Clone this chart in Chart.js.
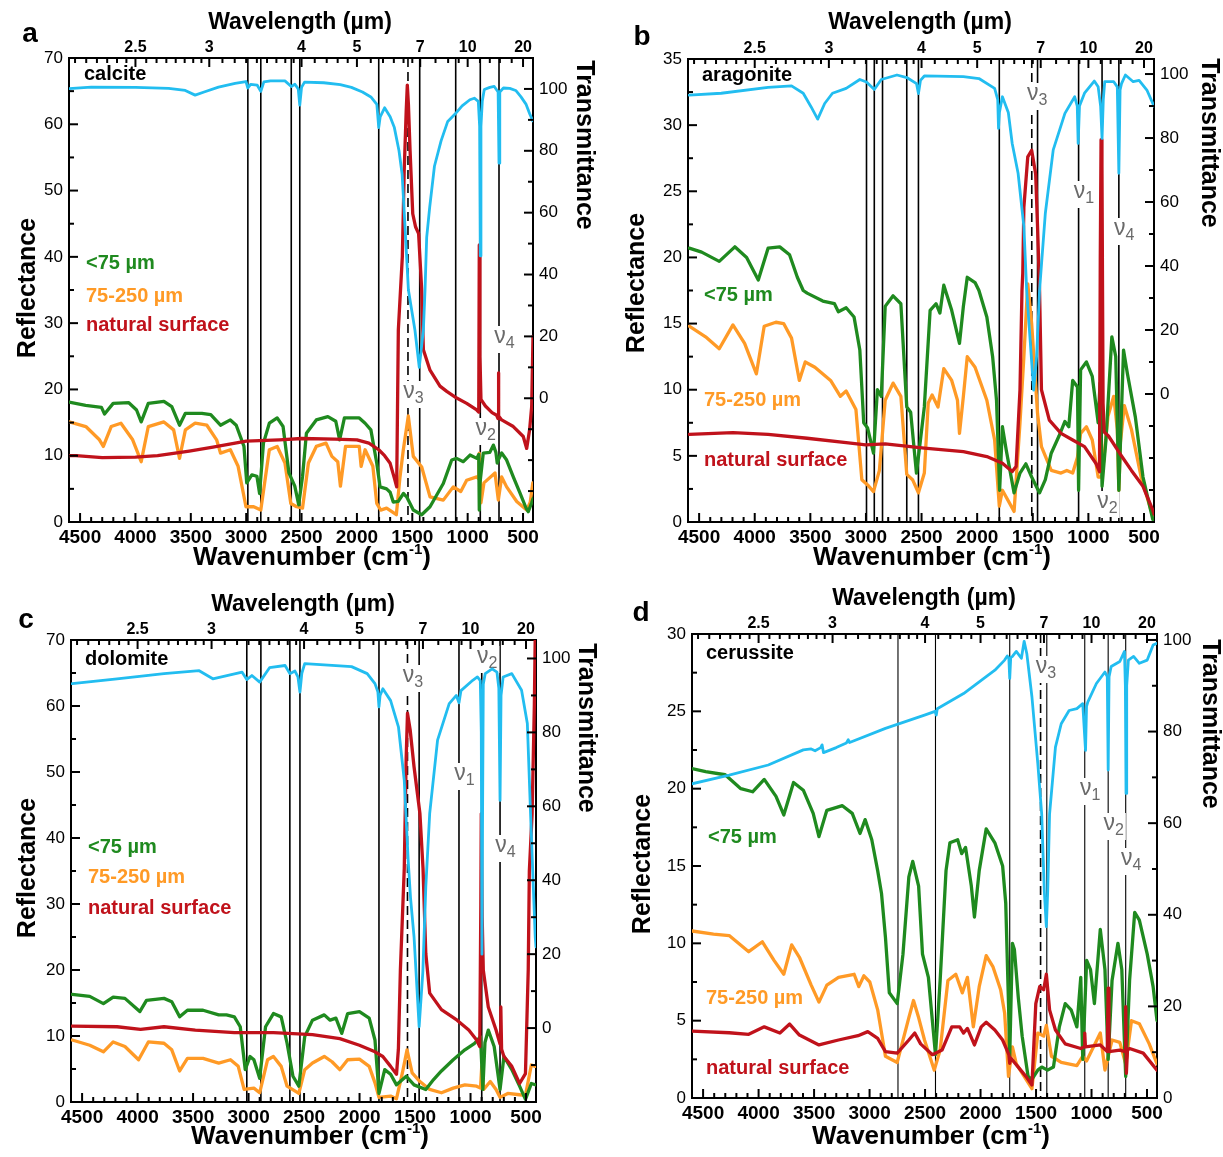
<!DOCTYPE html>
<html>
<head>
<meta charset="utf-8">
<title>Carbonate reflectance and transmittance spectra</title>
<script src="https://cdn.jsdelivr.net/npm/chart.js@4.4.1/dist/chart.umd.min.js"></script>
<style>
  html, body { margin: 0; padding: 0; background: #fff; }
  body { width: 1223px; height: 1157px; position: relative; overflow: hidden; }
  canvas { position: absolute; display: block; }
</style>
</head>
<body>
<canvas id="calcite" width="612" height="580" style="left:0px;top:0px"></canvas>
<canvas id="aragonite" width="611" height="580" style="left:612px;top:0px"></canvas>
<canvas id="dolomite" width="612" height="577" style="left:0px;top:580px"></canvas>
<canvas id="cerussite" width="611" height="577" style="left:612px;top:580px"></canvas>
<script>
/* --------------- Axis ticks --------------------- */
const wavenumberTicks = [4500, 4000, 3500, 3000, 2500, 2000, 1500, 1000, 500];
const wavelengthLabels = [2.5, 3, 4, 5, 7, 10, 20];
const wavelengthMinor = [2.2, 2.25, 2.3, 2.35, 2.4, 2.45, 2.5625, 2.625, 2.6875, 2.75, 2.8125, 2.875, 2.9375,
  3.111, 3.222, 3.333, 3.444, 3.556, 3.667, 3.778, 3.889, 4.2, 4.4, 4.6, 4.8,
  5.333, 5.667, 6, 6.333, 6.667, 7.75, 8.5, 9.25, 11.25, 12.5, 14.1, 16.6];
const transmittanceTicks = [0, 20, 40, 60, 80, 100];
const reflTicks70 = [0, 10, 20, 30, 40, 50, 60, 70];
const reflTicks35 = [0, 5, 10, 15, 20, 25, 30, 35];
const reflTicks30 = [0, 5, 10, 15, 20, 25, 30];

/* --------------- Band positions (cm-1), dashed = nu3 --------------------- */
const calciteBands = [2985, 2868, 2593, 2516, 1803, 1433, 1108, 886, 717];
const aragoniteBands = [2995, 2925, 2851, 2633, 2528, 1801, 1457, 1088, 877, 726];
const dolomiteBands = [3016, 2889, 2628, 2537, 1825, 1463, 1104, 899, 734];
const cerussiteBands = [2744, 2406, 1737, 1403, 1061, 850, 692];
const dashedBand = { calcite: 1539, aragonite: 1509, dolomite: 1568, cerussite: 1459 };

/* --------------- Vibration mode labels [subscript, cm-1] --------------------- */
const calciteModes = [['3', 1539], ['2', 886], ['4', 717]];
const aragoniteModes = [['3', 1509], ['1', 1088], ['4', 726], ['2', 877]];
const dolomiteModes = [['3', 1568], ['1', 1104], ['2', 899], ['4', 734]];
const cerussiteModes = [['3', 1459], ['1', 1061], ['2', 850], ['4', 692]];

/* --------------- Calcite [cm-1, value] --------------------- */
const calciteTrans = [[4600,100.1],[4400,100.6],[4000,100.5],[3700,100.2],[3550,99.5],[3461,98],[3380,99],[3250,100.6],[3100,101.8],[3002,102.4],[2985,100.3],[2960,101.5],[2900,101.2],[2868,99.2],[2840,102.3],[2780,102.6],[2650,102.6],[2593,100.8],[2560,101.5],[2530,100],[2516,94.8],[2500,100.5],[2473,102.2],[2300,102],[2150,101.4],[2050,100.5],[1950,99],[1874,97.4],[1820,95],[1803,87.5],[1790,91],[1750,93.9],[1700,91],[1662,87.5],[1620,80],[1592,72.5],[1565,55],[1535,35],[1476,22],[1437,10],[1400,22],[1385,35],[1370,52],[1343,61.7],[1300,75],[1240,83.2],[1180,89.5],[1116,91.8],[1050,94.5],[980,96.5],[940,97],[904,96],[892,88],[886,46],[880,88],[868,96],[850,99.8],[800,100.5],[760,100.8],[725,99],[717,76],[710,99],[677,100.3],[620,100.2],[566,99.5],[520,97.5],[472,95],[440,92],[413,89.7]];
const calciteNatural = [[4600,10],[4537,10.0],[4300,9.7],[4000,9.8],[3800,10],[3514,10.7],[3300,11.3],[3000,12.2],[2700,12.4],[2500,12.6],[2200,12.5],[2000,12.4],[1892,11.9],[1803,10.9],[1750,10],[1700,8.85],[1660,6.5],[1641,5.3],[1626,29],[1590,40],[1573,53],[1555,62],[1545,65.9],[1535,63],[1520,56],[1496,46.5],[1470,44.5],[1443,43.5],[1415,35],[1400,26],[1340,22.9],[1250,20.5],[1189,19.7],[1099,18.7],[1009,17.9],[918,16.9],[900,16.6],[895,41.8],[889,25],[880,18.5],[840,17.5],[780,16.5],[738,16.1],[726,15.6],[723,22.5],[718,16],[693,15.4],[588,14.4],[498,12.9],[467,11.1],[440,14],[422,17.4],[410,28]];
const calciteFine = [[4600,18.1],[4450,17.6],[4307,17.3],[4279,16.3],[4201,17.9],[4060,18.0],[3990,16.9],[3948,15.1],[3884,17.9],[3743,18.2],[3672,17.4],[3602,14.6],[3549,16.4],[3400,16.4],[3320,16.2],[3232,14.6],[3143,15.4],[3090,14.6],[3020,11.4],[2995,5.9],[2949,7.1],[2903,6.9],[2879,4.3],[2844,11.9],[2791,14.9],[2720,15.7],[2667,14.4],[2614,7.4],[2561,5.4],[2526,2.6],[2491,6.9],[2456,13.4],[2367,15.4],[2262,15.9],[2191,15.2],[2156,12.4],[2113,15.7],[1979,15.7],[1926,14.9],[1874,13.9],[1821,8.9],[1791,5.3],[1732,5.0],[1700,4.5],[1672,3.0],[1627,3.1],[1580,4.3],[1551,3.8],[1491,1.8],[1415,1.1],[1340,2.3],[1220,5.8],[1144,9.35],[1100,9.6],[1039,9.1],[979,10.1],[918,9.6],[900,10.2],[895,1.8],[888,6],[859,10.4],[800,10.5],[768,11.6],[745,10.5],[733,8.9],[720,9.5],[693,10.4],[648,9.35],[588,6.8],[528,4.4],[470,2.0],[453,1.55],[422,2.9],[410,3.5]];
const calciteCoarse = [[4600,15.1],[4448,14.4],[4325,12.4],[4290,11.4],[4219,14.4],[4131,14.9],[4025,12.4],[3948,9.1],[3884,14.4],[3743,15.1],[3655,13.9],[3602,9.6],[3549,13.9],[3461,14.9],[3355,14.6],[3267,12.4],[3232,10.4],[3143,10.9],[3073,8.4],[3002,2.3],[2932,2.3],[2868,1.8],[2791,10.9],[2720,11.4],[2650,8.9],[2597,2.8],[2544,2.3],[2491,2.1],[2438,8.9],[2367,11.4],[2279,11.9],[2226,9.9],[2173,9.1],[2149,5.4],[2103,11.4],[1979,11.4],[1962,8.4],[1926,10.9],[1856,8.4],[1821,2.8],[1785,1.8],[1732,2.1],[1644,1.1],[1611,6.8],[1581,10.9],[1536,16.0],[1491,9.9],[1415,8.3],[1340,3.8],[1220,3.3],[1130,5.3],[1062,4.6],[1009,6.3],[918,6.8],[900,6.5],[895,10.4],[880,2.9],[853,5.9],[753,7.4],[723,3.3],[693,6.8],[648,5.3],[557,3.1],[467,1.8],[435,3],[412,5.9]];

/* --------------- Aragonite [cm-1, value] --------------------- */
const aragoniteTrans = [[4589,93.4],[4301,94],[3880,95.8],[3669,96.3],[3564,94],[3494,89.8],[3434,85.9],[3371,90.8],[3301,94],[3178,95.5],[3055,98.3],[2995,97.5],[2967,96.6],[2925,95.2],[2862,98.3],[2721,99.7],[2633,98.9],[2545,97],[2528,93.9],[2510,98],[2475,99.4],[2124,99.2],[1984,98.6],[1843,95.5],[1815,92],[1808,83],[1800,88],[1773,92.9],[1720,88],[1685,78.3],[1632,69],[1580,52.3],[1555,32.5],[1520,15],[1492,1.2],[1465,12],[1439,32.5],[1387,56.5],[1316,76.3],[1211,87.7],[1123,92.9],[1100,90],[1092,78.3],[1080,90],[1035,94],[947,97.8],[912,96],[890,90],[877,79.9],[866,92],[853,97.6],[772,97.6],[740,96],[726,69],[715,95],[702,97],[667,99.7],[597,97.6],[544,98],[474,95],[421,90.8],[410,90]];
const aragoniteNatural = [[4589,6.63],[4196,6.76],[3880,6.63],[3529,6.33],[3178,6.0],[3002,5.83],[2827,5.9],[2475,5.58],[2124,5.32],[1913,4.95],[1773,4.44],[1685,3.81],[1650,4.19],[1615,10],[1597,17.5],[1590,18.8],[1580,23.8],[1545,27.6],[1510,28.1],[1474,26.3],[1457,22.3],[1439,17.5],[1422,10],[1351,7.7],[1246,6.7],[1141,6.2],[1035,5.7],[930,4.4],[900,3.8],[893,20],[886,28.9],[878,27],[868,9],[858,6.8],[819,6.5],[719,5.2],[613,3.9],[509,2.7],[421,0.9],[410,0.6]];
const aragoniteFine = [[4589,20.7],[4477,20.4],[4319,19.7],[4179,20.8],[4073,20.0],[3968,18.3],[3880,20.7],[3775,20.8],[3687,20.2],[3617,18.5],[3564,17.5],[3529,17.3],[3388,16.7],[3283,16.5],[3248,15.9],[3178,16.2],[3107,15.5],[3055,13],[3020,7.5],[2985,7.1],[2932,5.2],[2897,10],[2862,9.5],[2827,16.3],[2756,17.1],[2686,16.5],[2633,8.7],[2598,8.3],[2546,3.7],[2510,6.2],[2475,8.7],[2423,16],[2370,16.5],[2335,15.8],[2300,17.9],[2229,16.0],[2159,13.5],[2124,16.3],[2089,18.5],[2019,18.1],[1984,17.5],[1913,15.5],[1861,12.5],[1826,9.2],[1798,2.4],[1773,7.2],[1738,5.4],[1668,2.2],[1615,3.7],[1562,4.4],[1510,3.4],[1439,2.2],[1387,3.2],[1334,5.2],[1264,6.5],[1211,7.6],[1176,7.2],[1141,10.7],[1098,10.2],[1088,2.4],[1070,11.5],[1018,12.1],[965,11],[912,7.5],[895,10.5],[877,2.7],[842,6.2],[789,14],[754,12.5],[726,2.4],[684,13],[649,11.2],[578,7.95],[509,3.4],[421,0.2],[410,0.2]];
const aragoniteCoarse = [[4589,14.8],[4442,14],[4319,13.1],[4196,14.9],[4091,13.5],[3985,11.2],[3915,14.8],[3810,15.1],[3740,15],[3669,13.9],[3599,10.7],[3546,12.1],[3459,11.7],[3318,10.7],[3230,9.5],[3178,9.9],[3090,8.5],[3037,3.2],[2985,2.8],[2932,2.3],[2879,3.9],[2827,9.2],[2756,10.5],[2686,9.5],[2633,3.6],[2581,3.2],[2528,2.2],[2475,3.7],[2440,9],[2405,9.6],[2352,8.7],[2300,11.6],[2229,10.7],[2177,9.2],[2159,6.7],[2124,9.5],[2089,12.5],[2019,11.7],[1913,9.2],[1843,6.2],[1801,1.2],[1773,2.4],[1668,0.8],[1615,7.5],[1580,12.5],[1545,18],[1510,15],[1457,8.2],[1422,5.7],[1334,3.9],[1246,3.7],[1194,3.9],[1141,3.7],[1098,4.9],[1070,6.7],[1018,7.2],[965,6.2],[912,3.4],[877,3.4],[824,8],[772,9.5],[740,7],[726,2.4],[712,6],[677,8.8],[613,7],[526,3.4],[438,0.9],[410,0.5]];

/* --------------- Dolomite [cm-1, value] --------------------- */
const dolomiteTrans = [[4589,93.2],[4185,94.5],[3762,95.9],[3445,96.7],[3322,94.5],[3058,96.3],[3016,94.3],[2970,95.4],[2900,93.6],[2811,97.5],[2671,98.1],[2628,95.9],[2582,96.6],[2555,95],[2537,90.9],[2520,96],[2494,98.6],[2072,97.8],[1931,95.9],[1861,93.2],[1835,91],[1825,86.9],[1815,90],[1790,91.8],[1720,88.6],[1649,81.4],[1597,67],[1561,45],[1540,35],[1509,24.7],[1463,0.4],[1430,15],[1403,38.2],[1368,58],[1297,77.9],[1192,87.8],[1128,90],[1104,88],[1086,91.3],[980,94.1],[938,95],[912,94],[903,80],[897,20],[891,60],[885,93],[868,95.9],[805,97.2],[762,96.3],[745,92],[734,61.6],[725,90],[706,95],[628,95.9],[540,91.4],[488,82.4],[459,58],[430,35],[417,24.7],[410,22]];
const dolomiteNatural = [[4589,11.5],[4185,11.4],[3973,11],[3762,11.4],[3480,10.9],[3128,10.5],[2776,10.5],[2424,10.2],[2178,9.6],[2001,8.6],[1861,7.6],[1790,6.9],[1720,5.4],[1667,4.2],[1650,8],[1632,20],[1597,35.4],[1580,52],[1568,58.9],[1544,56.4],[1509,50.8],[1456,43.7],[1428,35.4],[1403,22.5],[1368,16.5],[1262,14],[1121,12.4],[1016,10.9],[945,9.4],[917,8.4],[907,30],[903,43.7],[895,28],[885,20],[840,14.4],[770,10.9],[734,8.8],[727,14.4],[720,8],[699,6.9],[628,5.4],[558,2.8],[505,4.3],[480,20],[470,35],[445,43.7],[425,60],[417,70.5],[410,75]];
const dolomiteFine = [[4589,16.3],[4431,16],[4308,14.9],[4220,15.9],[4114,15.7],[4026,14.4],[3980,13.7],[3920,15.4],[3762,15.7],[3692,15.2],[3621,12.9],[3551,13.9],[3410,13.9],[3269,13.2],[3199,13.2],[3128,12.9],[3075,11.4],[3030,4.9],[2987,6.9],[2952,6.4],[2900,3.6],[2847,11.4],[2776,13.4],[2706,12.9],[2653,8.9],[2600,3.9],[2547,2.4],[2494,9.9],[2424,12.4],[2318,13.2],[2265,12.4],[2213,12.7],[2160,10.4],[2107,13.4],[2001,13.7],[1913,12.7],[1861,9.4],[1825,1.3],[1773,4.9],[1720,4.2],[1667,2.6],[1579,3.9],[1509,2.6],[1403,1.9],[1333,3.4],[1262,4.7],[1156,6.4],[1051,7.9],[963,8.9],[910,9.9],[889,1.9],[870,9],[840,10.9],[787,8.4],[734,1.9],[699,6.9],[628,4.9],[558,2.4],[505,0.4],[452,2.8],[410,2.6]];
const dolomiteCoarse = [[4589,9.4],[4431,8.6],[4308,7.6],[4220,9.1],[4114,8.4],[3991,6.4],[3903,9.1],[3762,8.9],[3692,7.9],[3621,4.7],[3551,6.6],[3410,6.6],[3269,5.9],[3163,6.4],[3093,5.4],[3040,1.9],[2952,2.1],[2900,1.4],[2829,6.4],[2776,6.9],[2706,5.4],[2653,2.4],[2547,1.3],[2494,4.9],[2424,5.9],[2318,6.9],[2248,6.1],[2178,4.9],[2107,6.4],[2001,6.5],[1913,5.4],[1861,2.9],[1825,0.7],[1720,0.9],[1667,0.5],[1614,4.4],[1572,7.9],[1526,4.4],[1456,3.1],[1368,1.9],[1262,1.4],[1156,2.1],[1051,2.6],[945,2.4],[910,2.1],[899,5.4],[882,1.9],[822,3.1],[770,1.9],[734,0.7],[664,1.3],[558,1.1],[505,1.0],[452,5.6],[417,5.4]];

/* --------------- Cerussite [cm-1, value] --------------------- */
const cerussiteTrans = [[4600,68.6],[4265,70.5],[3913,72.7],[3597,76],[3526,76.2],[3491,75.8],[3440,76.5],[3428,77.1],[3415,75.4],[3300,76.5],[3209,77.5],[3192,78.2],[3180,77.6],[2857,80.7],[2505,83.6],[2410,84.4],[2399,83.6],[2390,85],[2153,88.3],[1871,93.4],[1783,95.6],[1759,96.5],[1745,96],[1737,91.6],[1728,96.2],[1713,96.4],[1678,97.5],[1632,96],[1607,99.7],[1583,97],[1537,87.6],[1484,73],[1449,62],[1425,45],[1407,37.4],[1395,45],[1378,62],[1325,76.6],[1273,81.7],[1202,84.6],[1132,85],[1079,86.1],[1054,75.9],[1045,85.5],[1033,86.5],[956,90.5],[879,93],[858,92],[850,71.6],[842,92],[823,94.2],[745,95.3],[703,97.5],[695,90],[689,66.5],[683,90],[668,95.6],[621,96.4],[569,94.9],[498,95.6],[445,98.9],[410,99.3]];
const cerussiteNatural = [[4600,4.33],[4265,4.22],[4089,4.12],[3949,4.6],[3808,4.2],[3720,4.78],[3632,4.07],[3456,3.43],[3280,3.75],[3104,4.03],[3016,4.29],[2927,3.86],[2857,3.0],[2751,2.9],[2646,3.75],[2593,4.2],[2540,3.5],[2434,2.8],[2347,3.1],[2259,4.6],[2188,4.6],[2153,4.2],[2118,4.5],[2055,3.43],[1994,4.6],[1949,4.9],[1871,4.4],[1801,3.75],[1745,2.8],[1737,2.24],[1730,2.6],[1660,2.0],[1590,1.38],[1537,0.84],[1502,6.1],[1467,7.2],[1431,7.0],[1407,8.0],[1378,5.7],[1325,4.4],[1237,3.5],[1097,3.2],[1066,3.3],[1061,4.2],[1055,3.3],[921,3.43],[858,3.0],[850,7.1],[843,3.0],[745,3.1],[697,3.0],[692,5.9],[686,1.6],[676,3.1],[657,3.2],[534,2.9],[410,1.8]];
const cerussiteFine = [[4600,21.3],[4477,21.1],[4301,20.9],[4160,20.0],[4054,19.8],[3949,20.6],[3843,19.5],[3773,18.3],[3685,20.4],[3597,19.9],[3508,18.4],[3456,16.9],[3385,18.6],[3245,18.9],[3156,18.4],[3086,17.1],[3040,18],[2980,16.7],[2927,14.7],[2892,13.2],[2857,10.4],[2822,6.8],[2751,6.1],[2699,9.3],[2646,14.3],[2611,15.3],[2558,13.7],[2523,9.3],[2470,7.8],[2406,2.8],[2364,7.6],[2311,14.7],[2276,16.5],[2206,16.7],[2170,15.8],[2135,16.2],[2083,13.7],[2055,11.7],[2012,14.7],[1949,17.4],[1871,16.5],[1801,15],[1773,12.6],[1748,6.1],[1737,2.7],[1713,10],[1695,9.6],[1660,6.5],[1625,4.0],[1572,1.4],[1537,1.2],[1484,1.8],[1449,2.0],[1396,1.8],[1343,2.0],[1290,4.6],[1237,6.1],[1184,5.7],[1132,4.6],[1097,7.8],[1079,2.5],[1044,8.9],[1009,8.3],[974,6.1],[921,10.9],[879,8.3],[850,2.5],[815,7.6],[762,10],[727,8.3],[692,1.4],[657,7.6],[611,12.0],[569,11.5],[498,9.3],[445,7.2],[410,5.0]];
const cerussiteCoarse = [[4600,10.8],[4406,10.6],[4265,10.5],[4089,9.46],[3966,10.1],[3861,8.9],[3773,8.0],[3702,9.9],[3632,9.1],[3526,7.3],[3456,6.2],[3385,7.3],[3280,7.8],[3139,8.0],[3097,7.2],[3051,7.9],[2998,7.5],[2927,5.7],[2857,2.7],[2751,2.3],[2646,5.2],[2604,6.3],[2558,5.2],[2505,3.75],[2417,1.8],[2364,3.1],[2294,7.6],[2223,8.0],[2164,6.8],[2118,7.8],[2065,4.6],[2012,7.2],[1949,9.2],[1889,8.5],[1819,7.0],[1783,5.5],[1748,1.4],[1713,3.3],[1678,2.2],[1590,1.2],[1537,0.6],[1484,4.2],[1431,4.0],[1407,4.7],[1361,2.7],[1273,2.3],[1132,2.1],[1079,2.7],[1044,2.4],[921,4.2],[879,1.8],[815,3.75],[745,3.6],[692,2.2],[640,5.0],[569,4.8],[480,3.5],[410,2.2]];

/* --------------- Colours and fonts --------------------- */
const FONT = '"Liberation Sans", Arial, Helvetica, sans-serif';
const CYAN = '#22bdf0';
const RED = '#c0121b';
const GREEN = '#1f8a1f';
const ORANGE = '#ff9a26';
const GREY = '#6a6a6a';

/* --------------- Panel layout (page pixels) --------------------- */
const panels = [
  { id: 'calcite', left: 0, top: 0, box: { l: 69, r: 79, t: 58, b: 58 }, reflMax: 70, reflTicks: reflTicks70, reflStep: 10,
    tMin: -40, tMax: 110, bandWidth: 1.6, bands: calciteBands, modes: calciteModes, modeY: [393, 430, 338],
    series: [calciteTrans, calciteNatural, calciteFine, calciteCoarse],
    letter: ['a', 30, 34], name: [84, 74], legend: [[86, 263], [86, 296], [86, 325]],
    wlTitle: [300, 23], wnTitle: [312, 558], reflTitle: [28, 288], transTitle: [584, 145] },
  { id: 'aragonite', left: 612, top: 0, box: { l: 76, r: 69, t: 59, b: 58 }, reflMax: 35, reflTicks: reflTicks35, reflStep: 5,
    tMin: -40, tMax: 104.7, bandWidth: 1.6, bands: aragoniteBands, modes: aragoniteModes, modeY: [95, 193, 230, 503],
    series: [aragoniteTrans, aragoniteNatural, aragoniteFine, aragoniteCoarse],
    letter: ['b', 642, 37], name: [702, 75], legend: [[704, 295], [704, 400], [704, 460]],
    wlTitle: [920, 23], wnTitle: [932, 558], reflTitle: [637, 283], transTitle: [1209, 143] },
  { id: 'dolomite', left: 0, top: 580, box: { l: 71, r: 76, t: 60, b: 55 }, reflMax: 70, reflTicks: reflTicks70, reflStep: 10,
    tMin: -20, tMax: 105, bandWidth: 1.6, bands: dolomiteBands, modes: dolomiteModes, modeY: [677, 775, 658, 847],
    series: [dolomiteTrans, dolomiteNatural, dolomiteFine, dolomiteCoarse],
    letter: ['c', 26, 620], name: [85, 659], legend: [[88, 847], [88, 877], [88, 908]],
    wlTitle: [303, 605], wnTitle: [310, 1137], reflTitle: [28, 868], transTitle: [586, 728] },
  { id: 'cerussite', left: 612, top: 580, box: { l: 80, r: 66, t: 54, b: 59 }, reflMax: 30, reflTicks: reflTicks30, reflStep: 5,
    tMin: 0, tMax: 101.3, bandWidth: 1.1, bands: cerussiteBands, modes: cerussiteModes, modeY: [668, 790, 825, 860],
    series: [cerussiteTrans, cerussiteNatural, cerussiteFine, cerussiteCoarse],
    letter: ['d', 641, 613], name: [706, 653], legend: [[708, 837], [706, 998], [706, 1068]],
    wlTitle: [924, 599], wnTitle: [931, 1137], reflTitle: [643, 864], transTitle: [1210, 724] }
];
const legendTexts = ['<75 µm', '75-250 µm', 'natural surface'];
const legendColors = [GREEN, ORANGE, RED];

/* --------------- Drawing helpers --------------------- */
function label(ctx, txt, x, y, font, color, align, rot) {
  ctx.save();
  ctx.translate(x, y);
  if (rot) ctx.rotate(rot);
  ctx.font = font;
  ctx.fillStyle = color;
  ctx.textAlign = align || 'center';
  ctx.textBaseline = 'middle';
  ctx.fillText(txt, 0, 0);
  ctx.restore();
}

function wavenumberTitle(ctx, x, y) {
  const big = 'bold 26px ' + FONT, small = 'bold 15px ' + FONT;
  ctx.save();
  ctx.font = big;
  const w1 = ctx.measureText('Wavenumber (cm').width, w3 = ctx.measureText(')').width;
  ctx.font = small;
  const w2 = ctx.measureText('-1').width;
  const sx = x - (w1 + w2 + w3) / 2;
  ctx.fillStyle = '#000';
  ctx.textAlign = 'left';
  ctx.textBaseline = 'middle';
  ctx.font = big; ctx.fillText('Wavenumber (cm', sx, y);
  ctx.font = small; ctx.fillText('-1', sx + w1, y - 8);
  ctx.font = big; ctx.fillText(')', sx + w1 + w2, y);
  ctx.restore();
}

function modeLabel(ctx, cx, y, sub) {
  ctx.save();
  ctx.font = '23px ' + FONT;
  const wv = ctx.measureText('ν').width;
  ctx.font = '16px ' + FONT;
  const ws = ctx.measureText(sub).width;
  ctx.fillStyle = '#fff';
  ctx.fillRect(cx - wv / 2 - 1, y - 12, wv + ws + 3, 27);
  ctx.fillStyle = GREY;
  ctx.textAlign = 'left';
  ctx.textBaseline = 'middle';
  ctx.font = '23px ' + FONT;
  ctx.fillText('ν', cx - wv / 2, y - 1);
  ctx.font = '16px ' + FONT;
  ctx.fillText(sub, cx + wv / 2, y + 6);
  ctx.restore();
}

/* --------------- Plugin: bands, inward ticks, texts --------------------- */
function decorations(p) {
  const px = v => v - p.left, py = v => v - p.top;
  return {
    id: 'decorations',
    beforeDatasetsDraw(chart) {
      const { ctx, chartArea: a, scales } = chart;
      ctx.save();
      ctx.strokeStyle = '#000';
      ctx.lineWidth = p.bandWidth;
      p.bands.forEach(wn => {
        const x = scales.x.getPixelForValue(wn);
        ctx.beginPath(); ctx.moveTo(x, a.top); ctx.lineTo(x, a.bottom); ctx.stroke();
      });
      ctx.lineWidth = 1.6;
      ctx.setLineDash([9, 5]);
      const dx = scales.x.getPixelForValue(dashedBand[p.id]);
      ctx.beginPath(); ctx.moveTo(dx, a.top); ctx.lineTo(dx, a.bottom); ctx.stroke();
      ctx.restore();
      p.modes.forEach(([sub, wn], i) => modeLabel(ctx, scales.x.getPixelForValue(wn) + 1, py(p.modeY[i]), sub));
    },
    afterDatasetsDraw(chart) {
      const { ctx, chartArea: a, scales } = chart;
      ctx.save();
      ctx.strokeStyle = '#000';
      ctx.lineWidth = 2;
      const tick = (x1, y1, x2, y2) => { ctx.beginPath(); ctx.moveTo(x1, y1); ctx.lineTo(x2, y2); ctx.stroke(); };
      for (let wn = 500; wn <= 4500; wn += 100) {
        const x = scales.x.getPixelForValue(wn);
        tick(x, a.bottom, x, a.bottom - (wn % 500 === 0 ? 9 : 5));
      }
      wavelengthLabels.forEach(um => { const x = scales.x2.getPixelForValue(1e4 / um); tick(x, a.top, x, a.top + 9); });
      wavelengthMinor.forEach(um => { const x = scales.x2.getPixelForValue(1e4 / um); tick(x, a.top, x, a.top + 5); });
      for (let v = 0; v <= p.reflMax + 1e-6; v += p.reflStep / 2) {
        const y = scales.y.getPixelForValue(v);
        const major = Math.abs(v / p.reflStep - Math.round(v / p.reflStep)) < 1e-6;
        tick(a.left, y, a.left + (major ? 9 : 5), y);
      }
      for (let v = Math.ceil(p.tMin / 10) * 10; v <= p.tMax; v += 10) {
        const y = scales.y2.getPixelForValue(v);
        const major = v % 20 === 0 && v >= 0 && v <= 100;
        tick(a.right, y, a.right - (major ? 9 : 5), y);
      }
      ctx.restore();
    },
    afterDraw(chart) {
      const ctx = chart.ctx;
      label(ctx, p.letter[0], px(p.letter[1]), py(p.letter[2]), 'bold 28px ' + FONT, '#000');
      label(ctx, p.id, px(p.name[0]), py(p.name[1]), 'bold 20px ' + FONT, '#000', 'left');
      p.legend.forEach(([x, y], i) => label(ctx, legendTexts[i], px(x), py(y), 'bold 20px ' + FONT, legendColors[i], 'left'));
      label(ctx, 'Wavelength (µm)', px(p.wlTitle[0]), py(p.wlTitle[1]), 'bold 23px ' + FONT, '#000');
      wavenumberTitle(ctx, px(p.wnTitle[0]), py(p.wnTitle[1]));
      label(ctx, 'Reflectance', px(p.reflTitle[0]), py(p.reflTitle[1]), 'bold 25px ' + FONT, '#000', 'center', -Math.PI / 2);
      label(ctx, 'Transmittance', px(p.transTitle[0]), py(p.transTitle[1]), 'bold 25px ' + FONT, '#000', 'center', Math.PI / 2);
    }
  };
}

/* --------------- Chart --------------------- */
function lineSet(name, data, color, width, axis) {
  return { label: name, data: data, borderColor: color, backgroundColor: color, borderWidth: width, yAxisID: axis,
    pointRadius: 0, tension: 0, fill: false, borderJoinStyle: 'round', borderCapStyle: 'round' };
}

function buildPanel(p) {
  const [trans, natural, fine, coarse] = p.series;
  const border = { display: true, color: '#000', width: 2 };
  const noGrid = { display: false, drawTicks: false };
  return new Chart(document.getElementById(p.id), {
    type: 'line',
    data: {
      datasets: [
        lineSet('transmittance', trans, CYAN, 2.8, 'y2'),
        lineSet('natural surface', natural, RED, 3.3, 'y'),
        lineSet('<75 µm', fine, GREEN, 3.3, 'y'),
        lineSet('75-250 µm', coarse, ORANGE, 3.3, 'y')
      ]
    },
    options: {
      responsive: false,
      animation: false,
      events: [],
      layout: { padding: 0 },
      plugins: { legend: { display: false }, tooltip: { enabled: false } },
      scales: {
        x: {
          type: 'linear', position: 'bottom', reverse: true, min: 410, max: 4600,
          grid: noGrid, border: border,
          afterBuildTicks: s => { s.ticks = wavenumberTicks.map(v => ({ value: v })); },
          afterFit: s => { s.height = p.box.b; s.paddingLeft = 0; s.paddingRight = 0; },
          ticks: { autoSkip: false, maxRotation: 0, padding: 4, color: '#000',
            font: { family: FONT, size: 19, weight: 'bold' }, callback: v => String(v) }
        },
        x2: {
          type: 'linear', position: 'top', reverse: true, min: 410, max: 4600,
          grid: noGrid, border: border,
          afterBuildTicks: s => { s.ticks = wavelengthLabels.map(um => ({ value: 1e4 / um })); },
          afterFit: s => { s.height = p.box.t; s.paddingLeft = 0; s.paddingRight = 0; },
          ticks: { autoSkip: false, maxRotation: 0, padding: 1, color: '#000',
            font: { family: FONT, size: 16, weight: 'bold' }, callback: (v, i) => String(wavelengthLabels[i]) }
        },
        y: {
          type: 'linear', position: 'left', min: 0, max: p.reflMax,
          grid: noGrid, border: border,
          afterBuildTicks: s => { s.ticks = p.reflTicks.map(v => ({ value: v })); },
          afterFit: s => { s.width = p.box.l; s.paddingTop = 0; s.paddingBottom = 0; },
          ticks: { autoSkip: false, padding: 6, color: '#000', font: { family: FONT, size: 17 }, callback: v => String(v) }
        },
        y2: {
          type: 'linear', position: 'right', min: p.tMin, max: p.tMax,
          grid: noGrid, border: border,
          afterBuildTicks: s => { s.ticks = transmittanceTicks.map(v => ({ value: v })); },
          afterFit: s => { s.width = p.box.r; s.paddingTop = 0; s.paddingBottom = 0; },
          ticks: { autoSkip: false, padding: 6, color: '#000', font: { family: FONT, size: 17 }, callback: v => String(v) }
        }
      }
    },
    plugins: [decorations(p)]
  });
}

const charts = panels.map(buildPanel);
</script>
</body>
</html>
